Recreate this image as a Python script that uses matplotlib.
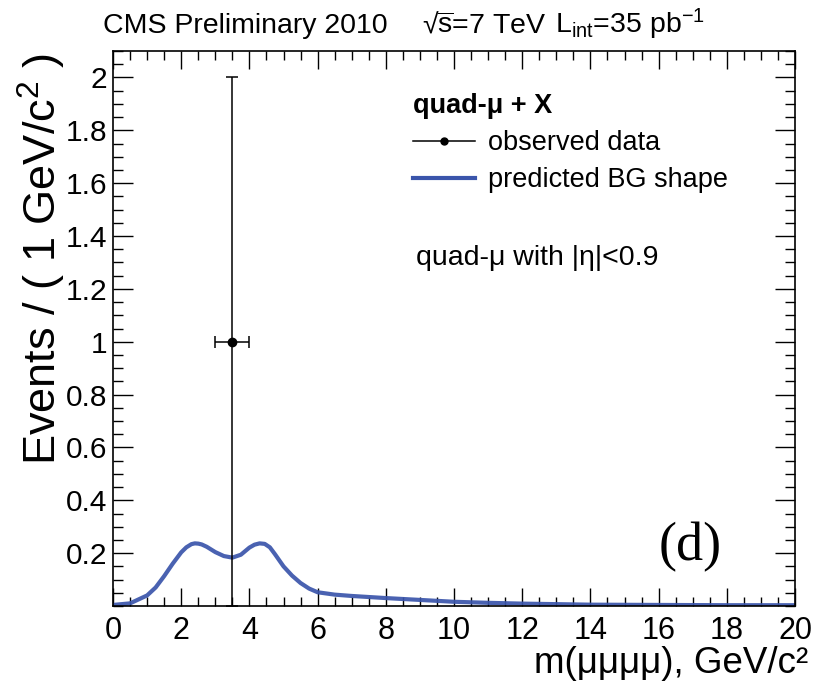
import matplotlib
matplotlib.use("Agg")
import matplotlib.pyplot as plt
from matplotlib.lines import Line2D
from matplotlib.ticker import MultipleLocator

plt.rcParams["font.family"] = ["Liberation Sans", "DejaVu Sans"]
plt.rcParams["mathtext.fontset"] = "custom"
plt.rcParams["mathtext.rm"] = "Liberation Sans"
plt.rcParams["mathtext.it"] = "Liberation Sans:italic"
plt.rcParams["mathtext.bf"] = "Liberation Sans:bold"

# background shape prediction, events per 1 GeV/c^2
bg_mass = [0.0, 0.5, 1.0, 1.25, 1.5, 1.75, 2.0, 2.15, 2.3, 2.4, 2.5, 2.6, 2.75,
           3.0, 3.25, 3.5, 3.75, 4.0, 4.15, 4.3, 4.45, 4.6, 4.75, 5.0, 5.25, 5.5,
           5.75, 6.0, 6.5, 7.0, 8.0, 9.0, 10.0, 11.0, 12.0, 13.0, 14.0, 16.0,
           18.0, 20.0]
bg_events = [0.004, 0.010, 0.040, 0.070, 0.113, 0.160, 0.203, 0.222, 0.234, 0.237,
             0.236, 0.233, 0.224, 0.204, 0.189, 0.183, 0.194, 0.221, 0.232, 0.237,
             0.235, 0.222, 0.196, 0.150, 0.115, 0.087, 0.066, 0.052, 0.043, 0.038,
             0.030, 0.023, 0.016, 0.012, 0.009, 0.007, 0.005, 0.004, 0.003, 0.003]

# observed data
obs_mass = [3.5]
obs_events = [1.0]
obs_xerr = [0.5]
obs_yerr = [1.0]

x_ticks = [0, 2, 4, 6, 8, 10, 12, 14, 16, 18, 20]
y_ticks = [0.2, 0.4, 0.6, 0.8, 1.0, 1.2, 1.4, 1.6, 1.8, 2.0]
y_tick_labels = ["0.2", "0.4", "0.6", "0.8", "1", "1.2", "1.4", "1.6", "1.8", "2"]

blue = "#3a55ab"

fig = plt.figure(figsize=(8.24, 6.86), dpi=100)
ax = fig.add_axes([113 / 824, 1 - 606 / 686, 682 / 824, 555 / 686])

ax.plot(bg_mass, bg_events, color=blue, lw=3.0, alpha=0.92,
        solid_capstyle="round", solid_joinstyle="round", zorder=2)
ax.errorbar(obs_mass, obs_events, xerr=obs_xerr, yerr=obs_yerr, fmt="o",
            color="black", ms=6, elinewidth=1.1, capsize=4, capthick=1.1, zorder=3,
            clip_on=False)

ax.set_xlim(0, 20)
ax.set_ylim(0, 2.1)
ax.set_xticks(x_ticks)
ax.set_yticks(y_ticks)
ax.set_yticklabels(y_tick_labels)
ax.xaxis.set_minor_locator(MultipleLocator(0.5))
ax.yaxis.set_minor_locator(MultipleLocator(0.05))
ax.tick_params(which="both", direction="in", top=True, right=True, width=1.0,
               colors="black")
ax.tick_params(axis="x", which="major", length=13, pad=7, labelsize=22)
ax.tick_params(axis="x", which="minor", length=6.5)
ax.tick_params(axis="y", which="major", length=14.5, pad=4, labelsize=21.5)
ax.tick_params(axis="y", which="minor", length=7.2)
for s in ax.spines.values():
    s.set_linewidth(1.2)

ax.set_ylabel("Events / ( 1 GeV/c$^{2}$ )", fontsize=32.5, loc="top")
ax.yaxis.set_label_coords(-0.066, 0.996)
ax.set_xlabel("m(μμμμ), GeV/c²", fontsize=26.5, loc="right", va="baseline")
ax.xaxis.set_label_coords(1.019, -0.121)

title_y = 1 - 33 / 686
fig.text(103 / 824, title_y, "CMS Preliminary 2010", fontsize=20.5,
         va="baseline", ha="left")
fig.text(422 / 824, title_y, "√$\\overline{\\mathrm{s}}$=7 TeV", fontsize=20.5,
         va="baseline", ha="left")
fig.text(555 / 824, title_y, "L$_{\\mathrm{int}}$=35 pb$^{\\mathrm{-1}}$",
         fontsize=20.5, va="baseline", ha="left")

handles = [
    Line2D([], [], color="black", lw=1.1, marker="o", ms=5),
    Line2D([], [], color=blue, lw=3.0),
]
leg = ax.legend(handles, ["observed data", "predicted BG shape"],
                title="quad-μ + X", title_fontproperties={"weight": "bold", "size": 19.5},
                alignment="left", fontsize=19.5, frameon=False,
                loc="upper left", bbox_to_anchor=(0.44, 0.925),
                borderpad=0, borderaxespad=0, handlelength=2.3,
                handletextpad=0.45, labelspacing=0.42)

ax.text(0.444, 0.627, "quad-μ with |η|<0.9", transform=ax.transAxes,
        fontsize=20.5, va="center", ha="left")
ax.text(0.846, 0.106, "(d)", transform=ax.transAxes, fontsize=39,
        family="Liberation Serif", va="center", ha="center")

fig.savefig("out.png", dpi=100)
